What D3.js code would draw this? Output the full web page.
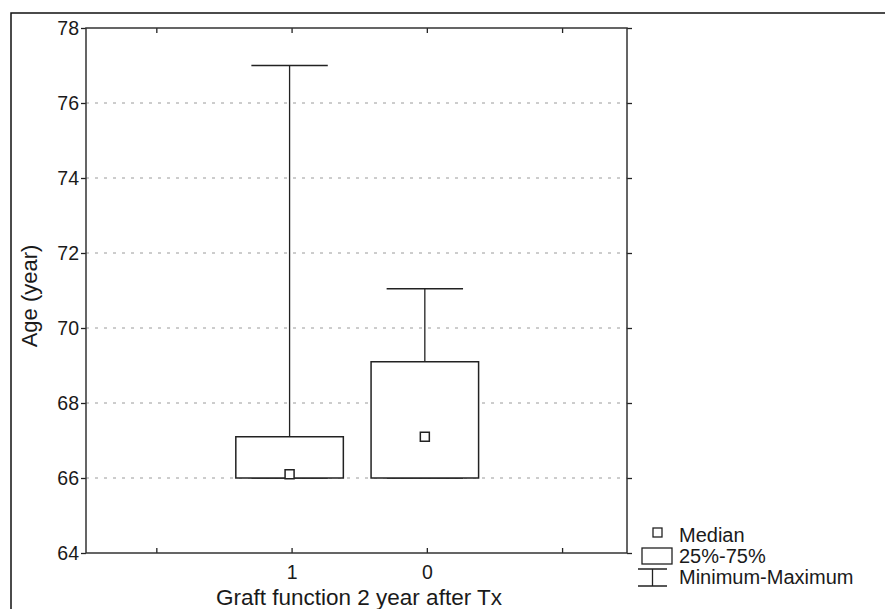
<!DOCTYPE html>
<html>
<head>
<meta charset="utf-8">
<script src="https://cdn.jsdelivr.net/npm/d3@7"></script>
<style>
  body { margin: 0; background: #fff; }
  text { font-family: "Liberation Sans", Arial, sans-serif; fill: #1a1a1a; }
</style>
</head>
<body>
<div id="chart"></div>
<script>
let groups = ["1", "0"];
let mins = [66, 66];
let q1s = [66, 66];
let medians = [66.1, 67.1];
let q3s = [67.1, 69.1];
let maxs = [77, 71.05];
let xTickLabels = ["", "1", "0", ""];
let yTicks = [64, 66, 68, 70, 72, 74, 76, 78];
let gridTicks = [66, 68, 70, 72, 74, 76];

let w = 885, h = 609;
let margin = {left: 86, top: 28, right: 258, bottom: 56};

let svg = d3.select("#chart").append("svg")
    .attr("width", w)
    .attr("height", h);

// outer frame (only top and left edges visible)
svg.append("path")
    .attr("d", `M11,${h} V13 H${w}`)
    .attr("fill", "none")
    .attr("stroke", "#111")
    .attr("stroke-width", 1.5);

let x = d3.scaleLinear()
    .domain([-0.52, 3.48])
    .range([margin.left, w - margin.right]);
let y = d3.scaleLinear()
    .domain([64, 78])
    .range([h - margin.bottom, margin.top]);

// gridlines
svg.append("g").selectAll("line")
    .data(gridTicks)
    .enter()
    .append("line")
    .attr("x1", x.range()[0])
    .attr("x2", x.range()[1])
    .attr("y1", d => y(d))
    .attr("y2", d => y(d))
    .attr("stroke", "#9a9a9a")
    .attr("stroke-width", 1)
    .attr("stroke-dasharray", "3,6");

// axes
let yAxis = svg.append("g")
    .attr("transform", `translate(${x.range()[0]},0)`)
    .call(d3.axisLeft(y).tickValues(yTicks).tickSize(5).tickPadding(2).tickSizeOuter(0));
let yAxisR = svg.append("g")
    .attr("transform", `translate(${x.range()[1]},0)`)
    .call(d3.axisLeft(y).tickValues(yTicks).tickSize(-5).tickFormat("").tickSizeOuter(0));
let xAxis = svg.append("g")
    .attr("transform", `translate(0,${y.range()[0]})`)
    .call(d3.axisBottom(x).tickValues([0, 1, 2, 3]).tickSize(-5).tickPadding(12)
        .tickFormat((d, i) => xTickLabels[i]).tickSizeOuter(0));
let xAxisT = svg.append("g")
    .attr("transform", `translate(0,${y.range()[1]})`)
    .call(d3.axisBottom(x).tickValues([0, 1, 2, 3]).tickSize(5).tickFormat("").tickSizeOuter(0));

[yAxis, yAxisR, xAxis, xAxisT].forEach(a => {
    a.select(".domain").remove();
    a.selectAll("line").attr("stroke", "#222").attr("stroke-width", 1.3);
    a.selectAll("text").attr("font-size", 19.5).attr("fill", "#1a1a1a")
        .style("font-family", "'Liberation Sans', Arial, sans-serif");
});

// plot frame
svg.append("rect")
    .attr("x", x.range()[0])
    .attr("y", y.range()[1])
    .attr("width", x.range()[1] - x.range()[0])
    .attr("height", y.range()[0] - y.range()[1])
    .attr("fill", "none")
    .attr("stroke", "#333")
    .attr("stroke-width", 1.5);

// boxes
let step = x(1) - x(0);
let boxW = step * 0.795;
let capW = step * 0.565;
let bx = (d, i) => x(i + 1) - 2;

let boxes = svg.append("g").selectAll("g")
    .data(groups)
    .enter()
    .append("g");
boxes.append("line")
    .attr("x1", bx).attr("x2", bx)
    .attr("y1", (d, i) => y(maxs[i]))
    .attr("y2", (d, i) => y(q3s[i]))
    .attr("stroke", "#222").attr("stroke-width", 1.3);
boxes.append("line")
    .attr("x1", (d, i) => bx(d, i) - capW / 2)
    .attr("x2", (d, i) => bx(d, i) + capW / 2)
    .attr("y1", (d, i) => y(maxs[i]))
    .attr("y2", (d, i) => y(maxs[i]))
    .attr("stroke", "#222").attr("stroke-width", 1.5);
boxes.append("line")
    .attr("x1", (d, i) => bx(d, i) - capW / 2)
    .attr("x2", (d, i) => bx(d, i) + capW / 2)
    .attr("y1", (d, i) => y(mins[i]))
    .attr("y2", (d, i) => y(mins[i]))
    .attr("stroke", "#222").attr("stroke-width", 1.5);
boxes.append("rect")
    .attr("x", (d, i) => bx(d, i) - boxW / 2)
    .attr("y", (d, i) => y(q3s[i]))
    .attr("width", boxW)
    .attr("height", (d, i) => y(q1s[i]) - y(q3s[i]))
    .attr("fill", "#fff")
    .attr("stroke", "#222").attr("stroke-width", 1.5);
boxes.append("rect")
    .attr("x", (d, i) => bx(d, i) - 4.5)
    .attr("y", (d, i) => y(medians[i]) - 4.5)
    .attr("width", 9).attr("height", 9)
    .attr("fill", "#fff")
    .attr("stroke", "#222").attr("stroke-width", 1.5);

// axis titles
svg.append("text")
    .text("Age (year)")
    .attr("font-size", 22)
    .attr("text-anchor", "middle")
    .attr("transform", `translate(37, 296) rotate(-90)`);
svg.append("text")
    .text("Graft function 2 year after Tx")
    .attr("font-size", 22.5)
    .attr("text-anchor", "middle")
    .attr("x", 359)
    .attr("y", 605);

// legend
let lg = svg.append("g");
lg.append("rect")
    .attr("x", 653).attr("y", 528).attr("width", 9).attr("height", 9)
    .attr("fill", "#fff").attr("stroke", "#222").attr("stroke-width", 1.3);
lg.append("rect")
    .attr("x", 642).attr("y", 548).attr("width", 30).attr("height", 16)
    .attr("fill", "#fff").attr("stroke", "#222").attr("stroke-width", 1.3);
lg.append("path")
    .attr("d", "M638,569 H667 M652.5,569 V586 M638,586 H667")
    .attr("fill", "none").attr("stroke", "#222").attr("stroke-width", 1.3);
let legendLabels = ["Median", "25%-75%", "Minimum-Maximum"];
lg.selectAll("text")
    .data(legendLabels)
    .enter()
    .append("text")
    .text(d => d)
    .attr("font-size", 20)
    .attr("x", 679)
    .attr("y", (d, i) => 542 + i * 21);
</script>
</body>
</html>
